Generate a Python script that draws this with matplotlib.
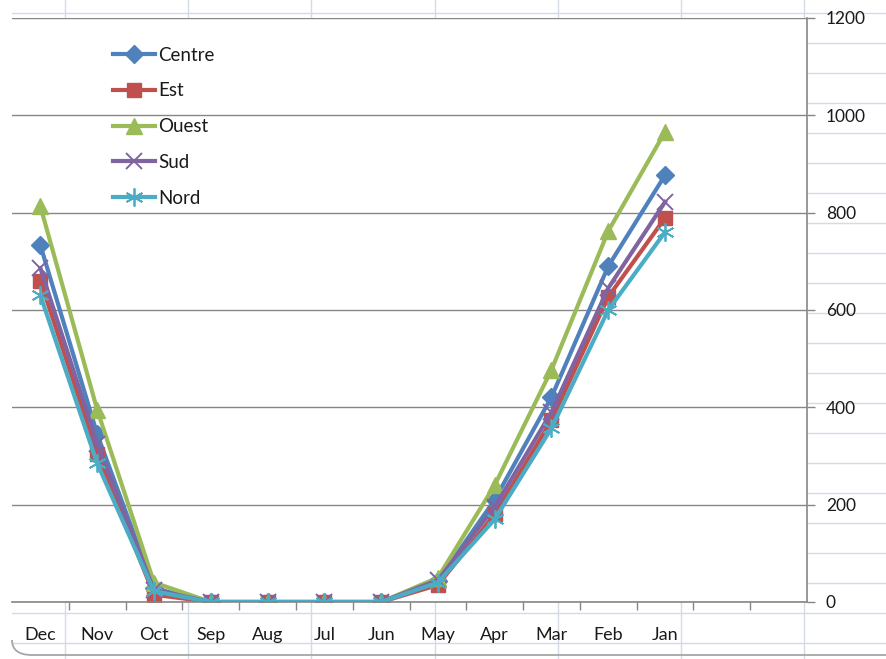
import matplotlib
matplotlib.use("Agg")
import matplotlib.pyplot as plt
from matplotlib.lines import Line2D
from matplotlib.patches import PathPatch
from matplotlib.path import Path

W, H = 886, 659

months = ["Dec", "Nov", "Oct", "Sep", "Aug", "Jul", "Jun",
          "May", "Apr", "Mar", "Feb", "Jan"]
n_slots = 14  # two empty category slots after Jan

centre = [733, 345, 28, 0, 0, 0, 0, 43, 210, 421, 690, 877]
est = [660, 305, 15, 0, 0, 0, 0, 35, 180, 373, 627, 789]
ouest = [813, 395, 40, 0, 0, 0, 0, 50, 240, 477, 762, 966]
sud = [686, 325, 25, 0, 0, 0, 0, 45, 195, 390, 645, 822]
nord = [630, 285, 22, 0, 0, 0, 0, 40, 170, 357, 600, 760]

series = [
    ("Centre", centre, "#4F81BD", "D", 9, 1.0),
    ("Est", est, "#C0504D", "s", 9.5, 1.0),
    ("Ouest", ouest, "#9BBB59", "^", 11, 1.0),
    ("Sud", sud, "#8064A2", "x", 11, 1.4),
    ("Nord", nord, "#4BACC6", (6, 2, 0), 13, 1.3),
]

plt.rcParams["font.family"] = ["Lato", "DejaVu Sans"]

fig = plt.figure(figsize=(W / 100, H / 100), dpi=100)


def px(x, y):
    return x / W, 1 - y / H


# spreadsheet cell grid behind the chart
cell_col = "#D4DAE6"
for xc in [65, 188, 311, 435, 558, 681, 804]:
    fig.add_artist(Line2D([xc / W, xc / W], [0, 1], color=cell_col, lw=1.0,
                          transform=fig.transFigure, zorder=0))
for yc in range(13, H, 30):
    fig.add_artist(Line2D([12 / W, 1], [1 - yc / H, 1 - yc / H], color=cell_col,
                          lw=1.0, transform=fig.transFigure, zorder=0))

# bottom edge of the chart frame with its rounded corner
verts = [px(12, 640), px(12, 655), px(32, 655), px(W + 5, 655)]
codes = [Path.MOVETO, Path.CURVE3, Path.CURVE3, Path.LINETO]
fig.add_artist(PathPatch(Path(verts, codes), transform=fig.transFigure,
                         fill=False, edgecolor="#A6A6A6", lw=1.3, zorder=1))

left, right, top, bottom = 12, 807, 18, 602
ax = fig.add_axes([left / W, 1 - bottom / H, (right - left) / W, (bottom - top) / H])
ax.set_facecolor("white")
ax.set_zorder(2)

x = list(range(len(months)))
for name, vals, col, mk, ms, mew in series:
    ax.plot(x, vals, color=col, lw=3.0, marker=mk, markersize=ms,
            markeredgewidth=mew, markeredgecolor=col, label=name,
            solid_joinstyle="round")

ax.set_xlim(-0.5, n_slots - 0.5)
ax.set_ylim(0, 1200)

# y axis on the right, gridlines every 200
ax.yaxis.tick_right()
ax.set_yticks(range(0, 1201, 200))
ax.yaxis.grid(True, color="#868686", lw=1.0)
ax.set_axisbelow(True)
ax.tick_params(axis="y", which="major", length=6, width=1.0, color="#868686",
               pad=7.5, labelsize=12.5, labelcolor="#1a1a1a")
for tick in ax.yaxis.get_major_ticks():
    tick.label2.set_horizontalalignment("left")

# category labels in the middle, tick marks on the boundaries
ax.set_xticks(x)
ax.set_xticklabels(months)
ax.set_xticks([i - 0.5 for i in range(1, n_slots)], minor=True)
ax.tick_params(axis="x", which="major", length=0, pad=18,
               labelsize=13, labelcolor="#1a1a1a")
ax.tick_params(axis="x", which="minor", length=6, width=1.0, color="#868686")

for side in ["top", "left"]:
    ax.spines[side].set_visible(False)
for side in ["right", "bottom"]:
    ax.spines[side].set_color("#868686")
    ax.spines[side].set_linewidth(1.2)

leg = ax.legend(loc="upper left", bbox_to_anchor=(0.127, 0.951), frameon=False,
                fontsize=13.5, handlelength=2.25, handletextpad=0.15,
                labelspacing=1.0, borderpad=0, borderaxespad=0)
for t in leg.get_texts():
    t.set_color("#1a1a1a")

fig.savefig("out.png", dpi=100)
